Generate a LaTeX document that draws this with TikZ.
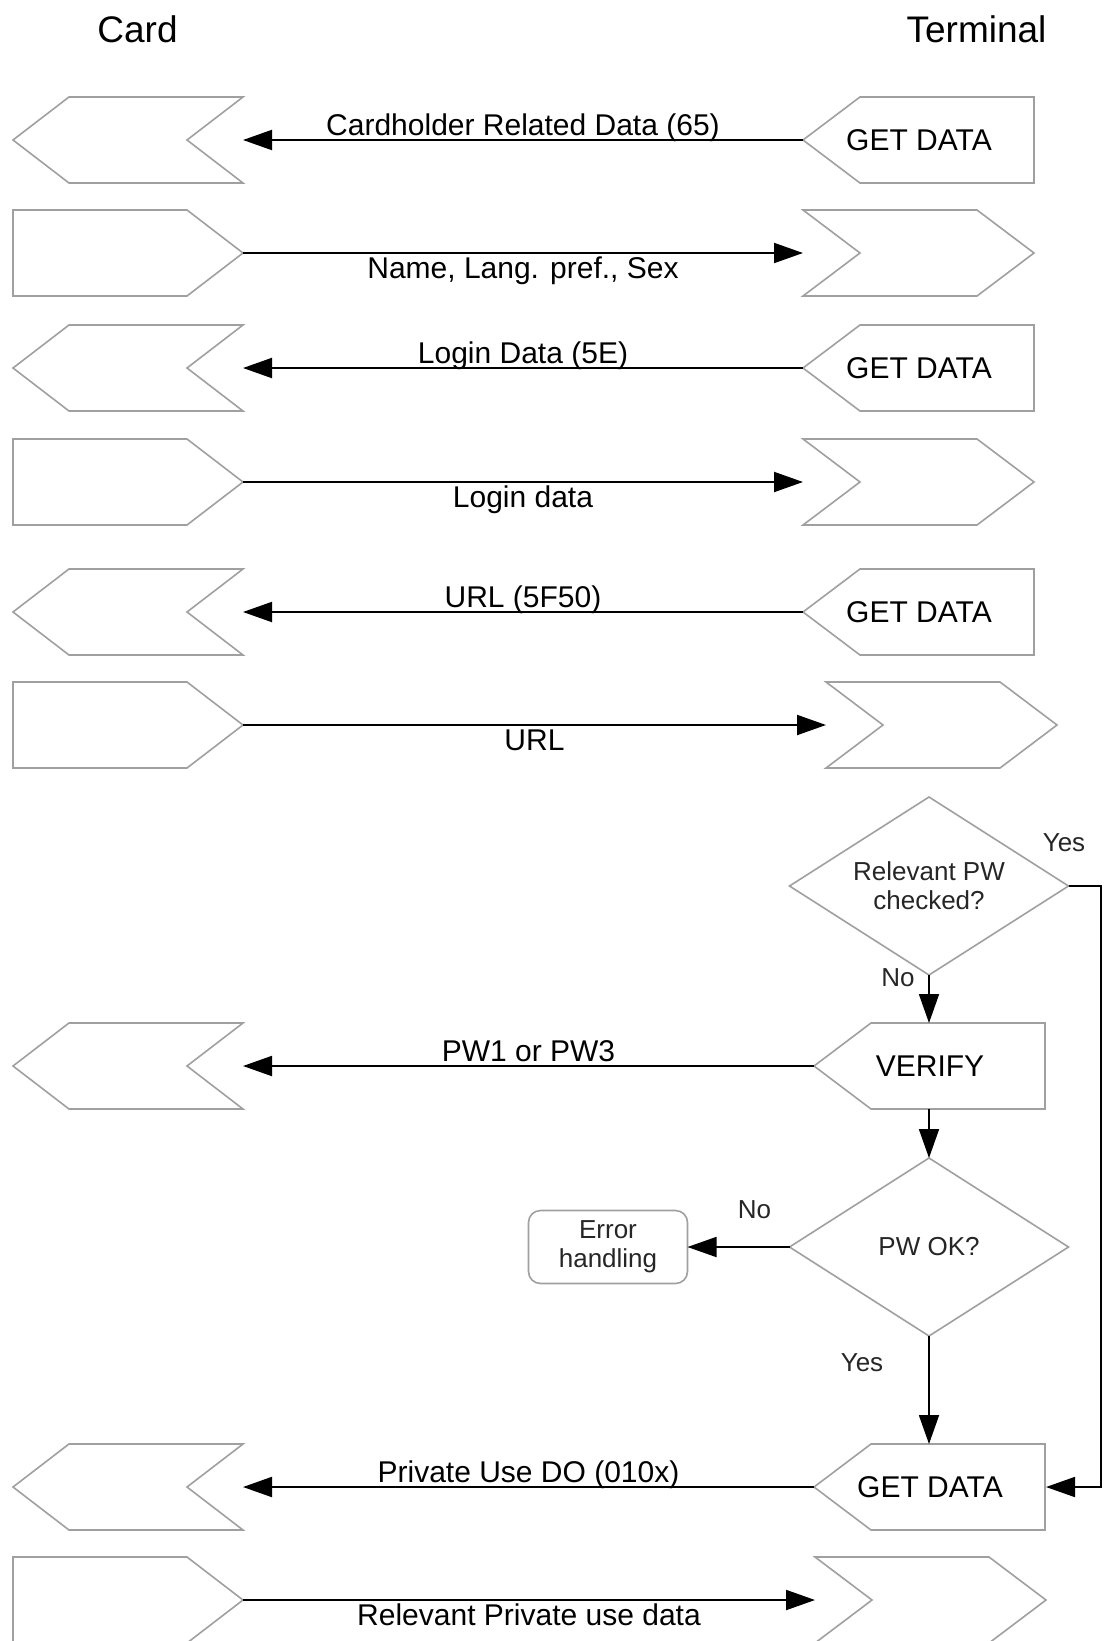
\documentclass[tikz,border=0pt]{standalone}
\usepackage{fontspec}
\setmainfont{Liberation Sans}
\usetikzlibrary{arrows.meta,shapes.geometric}
\definecolor{shapegray}{RGB}{160,160,160}
\newcommand\ShapeCardL[1]{\draw[outl] (13,#1) -- (69,#1-43) -- (243,#1-43) -- (187,#1) -- (243,#1+43) -- (69,#1+43) -- cycle;}
\newcommand\ShapeCardR[1]{\draw[outl] (13,#1-43) -- (187,#1-43) -- (243,#1) -- (187,#1+43) -- (13,#1+43) -- cycle;}
\newcommand\ShapeTermBox[2]{\draw[outl] (#1,#2) -- (#1+57,#2-43) -- (#1+231,#2-43) -- (#1+231,#2+43) -- (#1+57,#2+43) -- cycle;}
\newcommand\ShapeTermR[2]{\draw[outl] (#1,#2-43) -- (#1+174,#2-43) -- (#1+231,#2) -- (#1+174,#2+43) -- (#1,#2+43) -- (#1+57,#2) -- cycle;}
\tikzset{
  outl/.style={draw=shapegray,line width=1.6pt,line join=miter},
  msg/.style={draw=black,line width=2pt,-{Triangle[length=29pt,width=20pt]}},
  flow/.style={draw=black,line width=1.8pt,-{Triangle[length=29pt,width=20pt]}},
  big/.style={font=\fontsize{30}{35}\selectfont,inner sep=0pt},
  above lbl/.style={big,midway,anchor=base,yshift=5pt},
  below lbl/.style={big,midway,anchor=base,yshift=-25pt},
  title/.style={font=\fontsize{37}{42}\selectfont,inner sep=0pt,anchor=base},
  small/.style={font=\fontsize{26}{29}\selectfont,text=black!85,inner sep=0pt,align=center},
  dia/.style={shape=diamond,draw=shapegray,line width=1.6pt,minimum width=279pt,minimum height=178pt,aspect=1.567,inner sep=0pt,outer sep=0pt,small},
  errbox/.style={shape=rectangle,draw=shapegray,line width=1.6pt,rounded corners=12pt,minimum width=159pt,minimum height=73pt,inner sep=0pt,outer sep=0pt,small},
}
\begin{document}
\begin{tikzpicture}[x=1pt,y=-1pt]
\useasboundingbox[fill=white] (0,0) rectangle (1104,1641);
% titles
\node[title] (tcard) at (137.5,42) {Card};
\node[title] (tterm) at (976.5,42) {Terminal};
% card side shapes
\ShapeCardL{140}
\ShapeCardR{253}
\ShapeCardL{368}
\ShapeCardR{482}
\ShapeCardL{612}
\ShapeCardR{725}
\ShapeCardL{1066}
\ShapeCardL{1487}
\ShapeCardR{1600}
% terminal side shapes
\ShapeTermBox{803}{140}
\ShapeTermR{803}{253}
\ShapeTermBox{803}{368}
\ShapeTermR{803}{482}
\ShapeTermBox{803}{612}
\ShapeTermR{826}{725}
\ShapeTermBox{814}{1066}
\ShapeTermBox{814}{1487}
\ShapeTermR{815}{1600}
% texts in terminal boxes
\node[big] (gd1) at (919,140) {GET DATA};
\node[big] (gd3) at (919,368) {GET DATA};
\node[big] (gd5) at (919,612) {GET DATA};
\node[big] (ver) at (930,1066) {VERIFY};
\node[big] (gd8) at (930,1487) {GET DATA};
% connector end points
\coordinate (c1) at (243,140);  \coordinate (t1) at (803,140);
\coordinate (c2) at (243,253);  \coordinate (t2) at (803,253);
\coordinate (c3) at (243,368);  \coordinate (t3) at (803,368);
\coordinate (c4) at (243,482);  \coordinate (t4) at (803,482);
\coordinate (c5) at (243,612);  \coordinate (t5) at (803,612);
\coordinate (c6) at (243,725);  \coordinate (t6) at (826,725);
\coordinate (c7) at (243,1066); \coordinate (t7) at (814,1066);
\coordinate (c8) at (243,1487); \coordinate (t8) at (814,1487);
\coordinate (c9) at (243,1600); \coordinate (t9) at (815,1600);
\coordinate (vern) at (929,1023);
\coordinate (vers) at (929,1109);
\coordinate (gd8n) at (929,1444);
\coordinate (gd8e) at (1046,1487);
\coordinate (fb) at (1101,886);
% messages
\draw[msg] (t1) -- (c1) node[above lbl] {Cardholder Related Data (65)};
\draw[msg] (c2) -- (t2) node[below lbl] {Name, Lang. pref., Sex};
\draw[msg] (t3) -- (c3) node[above lbl] {Login Data (5E)};
\draw[msg] (c4) -- (t4) node[below lbl] {Login data};
\draw[msg] (t5) -- (c5) node[above lbl] {URL (5F50)};
\draw[msg] (c6) -- (t6) node[below lbl] {URL};
\draw[msg] (t7) -- (c7) node[above lbl] {PW1 or PW3};
\draw[msg] (t8) -- (c8) node[above lbl] {Private Use DO (010x)};
\draw[msg] (c9) -- (t9) node[below lbl] {Relevant Private use data};
% flowchart
\node[dia] (d1) at (929,886) {Relevant PW\\checked?};
\node[dia] (d2) at (929,1247) {PW OK?};
\node[errbox] (err) at (608,1247) {Error\\handling};
\draw[flow] (d1.south) -- (vern);
\draw[flow] (vers) -- (d2.north);
\draw[flow] (d2.west) -- (err.east);
\draw[flow] (d2.south) -- (gd8n);
\draw[flow] (d1.east) -- (fb) |- (gd8e);
\node[small] (yes1) at (1064,843) {Yes};
\node[small] (no1) at (898,978) {No};
\node[small] (no2) at (754.5,1210) {No};
\node[small] (yes2) at (862,1363) {Yes};
\end{tikzpicture}
\end{document}
